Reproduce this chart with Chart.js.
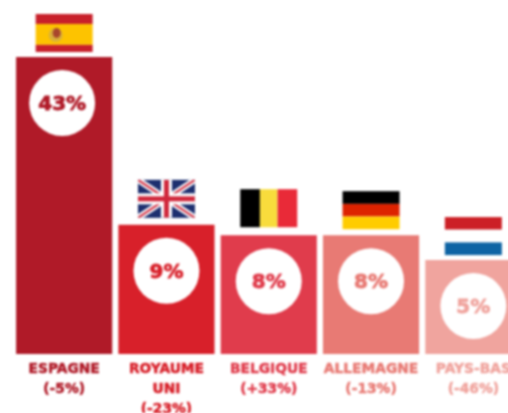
<!DOCTYPE html>
<html lang="fr">
<head>
<meta charset="utf-8">
<title>Parts par pays</title>
<script src="https://cdn.jsdelivr.net/npm/chart.js@4/dist/chart.umd.min.js"></script>
<style>
    html, body { margin: 0; padding: 0; background: #fff; overflow: hidden; }
    /* canvas is wider than the window: the last bar runs off the right edge */
    #wrap { width: 508px; height: 413px; overflow: hidden; }
    canvas { display: block; filter: blur(0.8px); }
</style>
</head>
<body>
<div id="wrap"><canvas id="chart" width="530" height="413"></canvas></div>
<script>
const countries = [
    ["ESPAGNE", "(-5%)"],
    ["ROYAUME", "UNI", "(-23%)"],
    ["BELGIQUE", "(+33%)"],
    ["ALLEMAGNE", "(-13%)"],
    ["PAYS-BAS", "(-46%)"],
];
// printed shares
const shares = [43, 9, 8, 8, 5];
// drawn bar heights (not proportional to the shares)
const barHeights = [43, 18.7, 17.2, 17.2, 13.6];
const barColors = ["#b01a28", "#d8202a", "#e03c4c", "#e87a74", "#f0a49e"];
const flags = ["es", "uk", "be", "de", "nl"];

const FLAG_W = 57;
const FLAG_H = 38;
const flagGaps = [5, 7, 8, 6, 5];
const BADGE_R = 33;
const BADGE_DROP = 46;

function stripes(ctx, x, y, colors, horizontal) {
    // colors: [color, weight] pairs
    const total = colors.reduce((sum, c) => sum + c[1], 0);
    let pos = 0;
    colors.forEach(([color, weight]) => {
        ctx.fillStyle = color;
        if (horizontal) {
            ctx.fillRect(x, y + (pos / total) * FLAG_H, FLAG_W, (weight / total) * FLAG_H);
        } else {
            ctx.fillRect(x + (pos / total) * FLAG_W, y, (weight / total) * FLAG_W, FLAG_H);
        }
        pos += weight;
    });
}

function cross(ctx, x, y, color, barW, diagW) {
    ctx.save();
    ctx.beginPath();
    ctx.rect(x, y, FLAG_W, FLAG_H);
    ctx.clip();
    ctx.strokeStyle = "#fff";
    ctx.lineWidth = diagW + 4;
    ctx.beginPath();
    ctx.moveTo(x, y);
    ctx.lineTo(x + FLAG_W, y + FLAG_H);
    ctx.moveTo(x + FLAG_W, y);
    ctx.lineTo(x, y + FLAG_H);
    ctx.stroke();
    ctx.strokeStyle = color;
    ctx.lineWidth = diagW;
    ctx.stroke();
    ctx.fillStyle = "#fff";
    ctx.fillRect(x + FLAG_W / 2 - barW / 2 - 3, y, barW + 6, FLAG_H);
    ctx.fillRect(x, y + FLAG_H / 2 - barW / 2 - 3, FLAG_W, barW + 6);
    ctx.fillStyle = color;
    ctx.fillRect(x + FLAG_W / 2 - barW / 2, y, barW, FLAG_H);
    ctx.fillRect(x, y + FLAG_H / 2 - barW / 2, FLAG_W, barW);
    ctx.restore();
}

function drawFlag(ctx, code, x, y) {
    if (code === "es") {
        stripes(ctx, x, y, [["#c8202a", 1.05], ["#fdc300", 2.2], ["#c8202a", 0.75]], true);
        ctx.fillStyle = "#d9b13a";
        ctx.beginPath();
        ctx.ellipse(x + 20, y + 21, 7, 7, 0, 0, Math.PI * 2);
        ctx.fill();
        ctx.fillStyle = "#a8462c";
        ctx.beginPath();
        ctx.ellipse(x + 21, y + 19, 4, 5, 0, 0, Math.PI * 2);
        ctx.fill();
    } else if (code === "uk") {
        ctx.fillStyle = "#1d2f6f";
        ctx.fillRect(x, y, FLAG_W, FLAG_H);
        cross(ctx, x, y, "#d0283c", 5, 2);
    } else if (code === "be") {
        stripes(ctx, x, y, [["#000", 1], ["#f8dc3c", 0.9], ["#e92a38", 1]], false);
    } else if (code === "de") {
        stripes(ctx, x, y, [["#000", 1], ["#dd2200", 1], ["#ffcc00", 1]], true);
    } else if (code === "nl") {
        stripes(ctx, x, y, [["#cc2026", 1], ["#fff", 1], ["#0e64a4", 1]], true);
    }
}

// flags above the bars and white percentage badges inside them
const decorations = {
    id: "decorations",
    afterDatasetsDraw(chart) {
        const ctx = chart.ctx;
        const meta = chart.getDatasetMeta(0);
        meta.data.forEach((bar, i) => {
            drawFlag(ctx, flags[i], bar.x - FLAG_W / 2, bar.y - flagGaps[i] - FLAG_H);

            const cx = bar.x - (i === 0 ? 2 : 0);
            const cy = bar.y + BADGE_DROP;
            ctx.beginPath();
            ctx.arc(cx, cy, BADGE_R, 0, Math.PI * 2);
            ctx.fillStyle = "#fff";
            ctx.fill();

            ctx.fillStyle = barColors[i];
            ctx.strokeStyle = barColors[i];
            ctx.lineWidth = 0.8;
            ctx.font = "bold 20px 'DejaVu Sans'";
            ctx.textAlign = "center";
            ctx.textBaseline = "middle";
            ctx.fillText(shares[i] + "%", cx, cy + 2);
            ctx.strokeText(shares[i] + "%", cx, cy + 2);
        });
    },
};

new Chart(document.getElementById("chart"), {
    type: "bar",
    data: {
        labels: countries,
        datasets: [
            {
                data: barHeights,
                backgroundColor: barColors,
                borderWidth: 0,
                categoryPercentage: 1,
                barPercentage: 0.94,
            },
        ],
    },
    options: {
        responsive: false,
        animation: false,
        layout: { padding: { left: 13, right: 5.5, top: 57, bottom: 0 } },
        plugins: {
            legend: { display: false },
            tooltip: { enabled: false },
        },
        scales: {
            y: { display: false, min: 0, max: 43 },
            x: {
                afterFit: (scale) => {
                    scale.height = 59;
                },
                grid: { display: false, drawTicks: false },
                border: { display: false },
                ticks: {
                    autoSkip: false,
                    maxRotation: 0,
                    padding: 6,
                    color: (c) => barColors[c.index],
                    textStrokeColor: (c) => barColors[c.index],
                    textStrokeWidth: 0.5,
                    font: { family: "'DejaVu Sans'", size: 13.8, weight: "bold", lineHeight: 1.42 },
                },
            },
        },
    },
    plugins: [decorations],
});
</script>
</body>
</html>
